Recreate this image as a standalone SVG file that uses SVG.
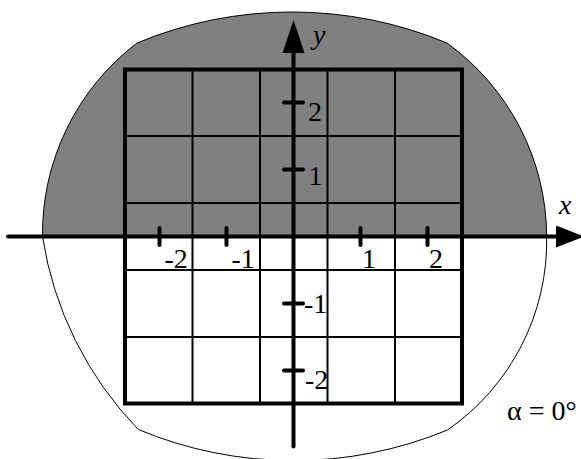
<svg xmlns="http://www.w3.org/2000/svg" width="581" height="459" viewBox="0 0 581 459">
<style>
.outline{stroke:#000;stroke-width:1;fill:none}
.grid{stroke:#000;stroke-width:2;fill:none}
.frame{stroke:#000;stroke-width:4;fill:none}
.axis{stroke:#000;stroke-width:4;stroke-linecap:round;fill:none}
.tick{stroke:#000;stroke-width:4;stroke-linecap:round}
.lbl{font-family:"Liberation Serif","Times New Roman",serif;font-size:28px;fill:#000}
.it{font-style:italic}
</style>
<rect width="581" height="459" fill="#fff"/>
<g id="region">
<path d="M42.5,236.5 A240,240 0 0 1 137,43 A403,403 0 0 1 447,43 A240,240 0 0 1 546.7,236.5 Z" fill="#808080" stroke="#000" stroke-width="1"/>
<path class="outline" d="M546.7,236.5 A230,230 0 0 1 447.5,430 A403,403 0 0 1 138.3,429.5 A355,355 0 0 1 42.5,236.5"/>
</g>
<g id="grid">
<path class="grid" d="M192.5,69.5V403.5M260,69.5V403.5M327.5,69.5V403.5M395,69.5V403.5M125,136H462M125,203H462M125,270H462M125,337H462"/>
<rect class="frame" x="125" y="69.5" width="337" height="334"/>
</g>
<g id="axes">
<line class="axis" x1="8" y1="236.5" x2="560" y2="236.5"/>
<polygon points="556,225.5 584,236.5 556,247.5" fill="#000"/>
<line class="axis" x1="293.5" y1="50" x2="293.5" y2="446.5"/>
<polygon points="282.5,53 293.5,20 304.5,53" fill="#000"/>
</g>
<g id="ticks">
<path class="tick" d="M159.5,228V245M226.5,228V245M360.5,228V245M427.5,228V245M284,102.5H303M284,169.5H303M284,303.5H303M284,370.5H303"/>
</g>
<g id="labels">
<text class="lbl it" x="313" y="44">y</text>
<text class="lbl it" x="559" y="214">x</text>
<text class="lbl" x="308" y="121">2</text>
<text class="lbl" x="308.5" y="185">1</text>
<text class="lbl" x="304" y="312.5">-1</text>
<text class="lbl" x="305" y="389">-2</text>
<text class="lbl" x="164.5" y="268">-2</text>
<text class="lbl" x="231.5" y="268">-1</text>
<text class="lbl" x="362" y="268">1</text>
<text class="lbl" x="429" y="268">2</text>
<text class="lbl" x="507" y="420">α = 0°</text>
</g>
</svg>
